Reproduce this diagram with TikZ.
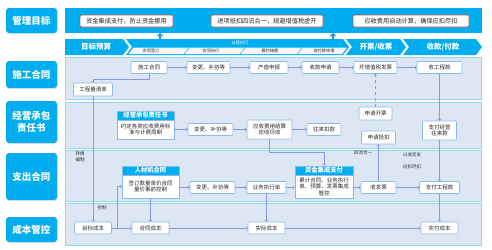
\documentclass[tikz,border=0pt]{standalone}
\usepackage{fontspec}
\setmainfont{Noto Sans CJK SC}
\usetikzlibrary{arrows.meta,calc,shadows}
\definecolor{cyanc}{RGB}{0,174,239}
\definecolor{upc}{RGB}{20,150,215}
\definecolor{lanefill}{RGB}{221,231,244}
\definecolor{laneline}{RGB}{150,212,245}
\definecolor{boxline}{RGB}{140,185,235}
\definecolor{arrc}{RGB}{135,150,235}
\definecolor{redc}{RGB}{192,80,77}
\definecolor{txt}{RGB}{40,40,40}
\definecolor{stripe}{RGB}{244,250,254}
\tikzset{
  lbl/.style={fill=cyanc, rounded corners=3pt, text=white, font=\fontsize{9.5}{11.5}\selectfont\bfseries, align=center, inner sep=0pt, minimum width=51pt, drop shadow={opacity=0.2, shadow xshift=0.8pt, shadow yshift=-1pt}},
  lane/.style={fill=lanefill, draw=laneline, line width=0.8pt},
  bx/.style={fill=white, draw=boxline, line width=0.6pt, rounded corners=1pt, font=\fontsize{5.5}{6.5}\selectfont, text=txt, align=center, inner sep=0pt, minimum height=12pt},
  hd/.style={fill=cyanc, draw=boxline, line width=0.6pt, text=white, font=\fontsize{6.3}{7}\selectfont\bfseries, inner sep=0pt, minimum height=9pt},
  goal/.style={fill=white, draw=redc, line width=0.6pt, rounded corners=1.5pt, font=\fontsize{6.2}{7}\selectfont, text=txt, inner sep=0pt, minimum height=12pt},
  arr/.style={draw=arrc, line width=0.5pt, -{To[length=2pt,width=3.5pt]}},
  note/.style={font=\fontsize{4.5}{5.5}\selectfont, text=txt, align=center, inner sep=0pt},
  chev/.style={font=\fontsize{7.5}{8}\selectfont\bfseries, text=white, inner sep=0pt},
  sub/.style={font=\fontsize{4.2}{5}\selectfont, text=txt, inner sep=0pt},
  uparr/.style={draw=upc, line width=1.8pt, -{Triangle[length=3pt,width=6pt]}}
}
\begin{document}
\begin{tikzpicture}[x=1pt,y=-1pt]
\useasboundingbox (0,0) rectangle (492,249);
\fill[white] (0,0) rectangle (492,249);

% left labels
\node[lbl, minimum height=25pt] (l1) at (31.5,20.5) {管理目标};
\node[lbl, minimum height=27pt] (l2) at (31.5,74.5) {施工合同};
\node[lbl, minimum height=42pt] (l3) at (31.5,122) {经营承包\\责任书};
\node[lbl, minimum height=47pt] (l4) at (31.5,176.5) {支出合同};
\node[lbl, minimum height=25pt] (l5) at (31.5,229.5) {成本管控};

% goal band
\fill[cyanc] (65,8) rectangle (482,33);
\node[goal, minimum width=93pt] (g1) at (126.5,21) {资金集成支付，防止资金挪用};
\node[goal, minimum width=112pt] (g2) at (267,21) {进项抵扣四流合一，规避增值税虚开};
\node[goal, minimum width=116pt] (g3) at (411,21) {应收费用自动计算，确保应扣尽扣};

% chevron row
\fill[cyanc] (65,39) -- (123,39) -- (129,47) -- (123,55) -- (65,55) -- cycle;
\fill[cyanc] (126,39) -- (343,39) -- (349,47) -- (343,55) -- (126,55) -- (132,47) -- cycle;
\fill[stripe] (133.5,47.5) -- (347,47.5) -- (342.2,54) -- (128.7,54) -- cycle;
\fill[cyanc] (346,39) -- (400,39) -- (406,47) -- (400,55) -- (346,55) -- (352,47) -- cycle;
\fill[cyanc] (403,39) -- (476,39) -- (482,47) -- (476,55) -- (403,55) -- (409,47) -- cycle;
\draw[cyanc, line width=0.5pt] (184,54) -- (189.5,47.5) (240,54) -- (245.5,47.5) (297,54) -- (302.5,47.5);
\node[chev] (c1) at (96,47) {目标预算};
\node[sub, text=white] (c2) at (240,43) {过程执行};
\node[chev] (c3) at (376,47) {开票/收票};
\node[chev] (c4) at (443,47) {收款/付款};
\node[sub] (s1) at (151,50.8) {合同签订};
\node[sub] (s2) at (211,50.8) {合同执行};
\node[sub] (s3) at (270,50.8) {履约结算};
\node[sub] (s4) at (324,50.8) {收付款申请};
\coordinate (u1a) at (160,39.5); \coordinate (u1b) at (160,33);
\coordinate (u2a) at (333,39.5); \coordinate (u2b) at (333,33);
\draw[uparr] (u1a) -- (u1b);
\draw[uparr] (u2a) -- (u2b);

% lanes
\draw[lane] (65,57.5) rectangle (481.5,99);
\draw[lane] (65,102) rectangle (481.5,148);
\draw[lane] (65,150) rectangle (481.5,201);
\draw[lane] (65,203) rectangle (481.5,245);

% lane 1
\node[bx, minimum width=36pt] (sg) at (149,67.5) {施工合同};
\node[bx, minimum width=43pt] (bg1) at (208.5,67.5) {变更、补协等};
\node[bx, minimum width=38pt] (czsb) at (269,67.5) {产值申报};
\node[bx, minimum width=37pt] (sksq) at (320.5,67.5) {收款申请};
\node[bx, minimum width=43pt] (kfp) at (375.5,67.5) {开增值税发票};
\node[bx, minimum width=45pt] (sgk) at (439.5,67.5) {收工程款};
\node[bx, minimum width=39pt, minimum height=13pt] (gcl) at (93,89.5) {工程量清单};

% lane 2
\node[hd, minimum width=57pt] (jyh) at (145.5,115.5) {经营承包责任书};
\node[bx, minimum width=57pt, minimum height=19pt, rounded corners=0pt] (jyb) at (145.5,129.5) {约定各类应收费用标\\准与计费周期};
\node[bx, minimum width=45pt] (bg2) at (210.5,129.5) {变更、补协等};
\node[bx, minimum width=45pt, minimum height=19pt] (ysjs) at (269.5,129.5) {应收费用结算\\应收尽收};
\node[bx, minimum width=34pt] (wlkk) at (324,129.5) {往来扣款};
\node[bx, minimum width=33pt, minimum height=13pt] (sqkp) at (375.5,113.5) {申请开票};
\node[bx, minimum width=34pt, minimum height=13pt] (sqdk) at (378.5,137.5) {申请抵扣};
\node[bx, minimum width=34pt, minimum height=19pt] (zfwl) at (439.5,130.5) {支付经营\\往来款};

% lane 3
\node[hd, minimum width=57pt] (rcjh) at (150.5,170.5) {人材机合同};
\node[bx, minimum width=57pt, minimum height=23pt, rounded corners=0pt] (rcjb) at (150.5,186.5) {签订数量单价合同\\量价事前控制};
\node[bx, minimum width=45pt] (bg3) at (212.5,187.5) {变更、补协等};
\node[bx, minimum width=39pt] (ywzx) at (266.5,187.5) {业务执行单};
\node[hd, minimum width=58pt] (zjh) at (324,170.5) {资金集成支付};
\node[bx, minimum width=58pt, minimum height=23pt, rounded corners=0pt] (zjb) at (324,186.5) {累计合同、业务执行\\单、预算、发票集成\\管控};
\node[bx, minimum width=35pt] (sfp) at (378.5,187.5) {收发票};
\node[bx, minimum width=40pt] (zfgc) at (439.5,187.5) {支付工程款};

% lane 4
\node[bx, minimum width=37pt] (mbcb) at (93,228) {目标成本};
\node[bx, minimum width=37pt] (htcb) at (150.5,228) {合同成本};
\node[bx, minimum width=37pt] (sjcb) at (266.5,228) {实际成本};
\node[bx, minimum width=37pt] (sfcb) at (439.5,228) {实付成本};

% notes
\node[note] (n1) at (80,157) {转换\\编制};
\node[note] (n2) at (102,208) {控制};
\node[note] (n3) at (363,153) {四流合一};
\node[note] (n4) at (412,155) {以收定支};
\node[note] (n5) at (412,167) {应扣尽扣};

% connectors lane 1
\draw[arr] (sg) -- (bg1);
\draw[arr] (bg1) -- (czsb);
\draw[arr] (czsb) -- (sksq);
\draw[arr] (sksq) -- (kfp);
\draw[arr] (kfp) -- (sgk);
\draw[arr] (sg.south) -- ++(0,5.5) -| (gcl.north);
\draw[arr] (gcl.south) -- (mbcb.north);

% lane 2
\draw[arr] (jyb) -- (bg2);
\draw[arr] (bg2) -- (ysjs);
\draw[arr] (ysjs) -- (wlkk);
\draw[arr, dashed] (sqkp.north) -- (kfp.south);
\draw[arr] (sgk.south) -- (zfwl.north);
\draw[arr] (zfwl.south) -- (zfgc.north);
\coordinate (k1) at (269.5,152);
\draw[arr] (ysjs.south) -- (k1) -| (zjh.north);

% lane 3
\draw[arr] (bg3.west -| rcjb.east) -- (bg3.west);
\draw[arr] (bg3) -- (ywzx);
\draw[arr] (ywzx.east) -- (ywzx.east -| zjb.west);
\draw[arr] (sfp.west -| zjb.east) -- (sfp.west);
\draw[arr] (sfp) -- (zfgc);
\draw[arr] (sfp.north) -- (sqdk.south);

% lane 4
\coordinate (fork) at (117,228);
\draw[arr] (mbcb) -- (htcb);
\draw[arr] (fork) |- (rcjb.west);
\draw[arr] (rcjb.south) -- (htcb.north);
\draw[arr] (htcb) -- (sjcb);
\draw[arr] (sjcb) -- (sfcb);
\draw[arr] (ywzx.south) -- (sjcb.north);
\draw[arr] (zfgc.south) -- (sfcb.north);
\end{tikzpicture}
\end{document}
